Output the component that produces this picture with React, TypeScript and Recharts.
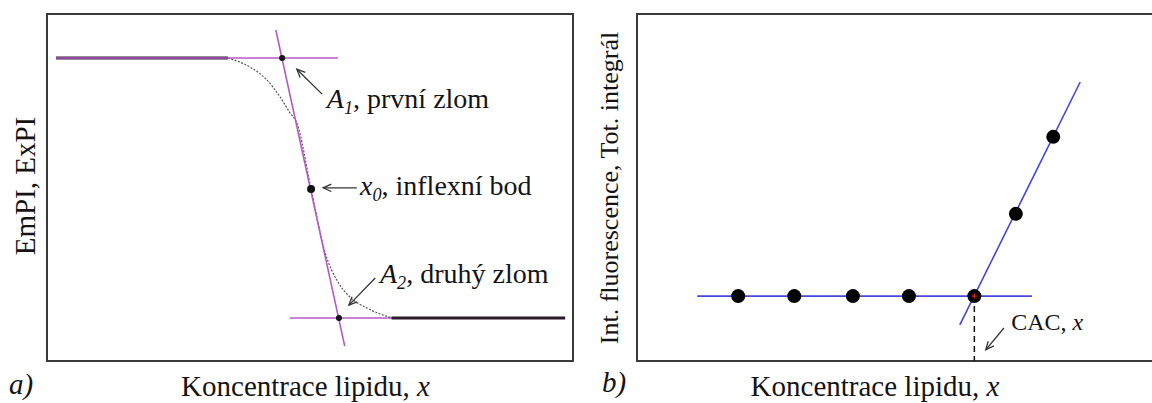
import React from 'react';
import {
  ComposedChart,
  Line,
  Scatter,
  XAxis,
  YAxis,
  ReferenceArea,
  ReferenceLine,
  ReferenceDot,
  Label,
} from 'recharts';

const FONT = "'Liberation Serif', 'Times New Roman', Times, serif";
const TEXT = '#141414';
const PURPLE = '#b45ac6';
const BLUE = '#4747da';
const FRAME = '#3a3a3a';

// ---------- Panel a) : sigmoid with tangents ----------
const upperLevel = 87.3;
const lowerLevel = 12.4;
const upperPlateauX = [1.7, 34.4];
const lowerPlateauX = [65.5, 98.5];
const bendX = [34.4, 38.6, 41.8, 44.3, 46.2, 47.5, 50.2, 52.9, 55.1, 57.6, 60.8, 65.5];
const bendY = [87.3, 84.7, 81.0, 76.1, 71.5, 68.6, 49.6, 31.1, 23.3, 18.4, 15.3, 12.4];
const upperTangentX = [1.7, 55.3];
const lowerTangentX = [46.2, 98.5];
const steepTangentX = [43.5, 56.6];
const steepTangentY = [95.4, 4.3];
const keyPointX = [44.7, 50.2, 55.5];
const keyPointY = [87.3, 49.6, 12.4];
const keyPointR = [3, 4, 3];

const annotMain = ['A', 'x', 'A'];
const annotSub = ['1', '0', '2'];
const annotRest = [', první zlom', ', inflexní bod', ', druhý zlom'];
const annotTextX = [53.2, 59.5, 63.3];
const annotTextY = [72.9, 47.8, 22.5];
const arrowFromX = [52.3, 58.9, 62.4];
const arrowFromY = [76.9, 49.9, 23.9];
const arrowToX = [47.5, 52.5, 57.4];
const arrowToY = [84.1, 49.9, 16.1];

// ---------- Panel b) : CAC determination ----------
const measX = [19.5, 30.3, 41.6, 52.4, 65.0, 73.0, 80.2];
const measY = [18.7, 18.7, 18.7, 18.7, 18.7, 42.4, 64.6];
const baseLineX = [11.6, 76.1];
const baseLineY = 18.7;
const riseLineX = [62.2, 85.4];
const riseLineY = [10.4, 80.4];
const cacX = 65.0;
const cacY = 18.7;
const cacArrowFrom = { x: 70.7, y: 9.5 };
const cacArrowTo = { x: 67.2, y: 3.2 };
const cacTextPos = { x: 72.1, y: 8.9 };

const pts = (xs: number[], ys: number[]) => xs.map((x, i) => ({ x, y: ys[i] }));
const flat = (xs: number[], y: number) => xs.map((x) => ({ x, y }));

const arrowShape = (props: any) => {
  const { x1, y1, x2, y2 } = props;
  const ang = Math.atan2(y2 - y1, x2 - x1);
  const len = 9;
  const spread = 0.42;
  const p1x = x2 - len * Math.cos(ang - spread);
  const p1y = y2 - len * Math.sin(ang - spread);
  const p2x = x2 - len * Math.cos(ang + spread);
  const p2y = y2 - len * Math.sin(ang + spread);
  return (
    <g>
      <line x1={x1} y1={y1} x2={x2} y2={y2} stroke="#333" strokeWidth={1.3} />
      <polyline
        points={`${p1x},${p1y} ${x2},${y2} ${p2x},${p2y}`}
        fill="none"
        stroke="#333"
        strokeWidth={1.3}
      />
    </g>
  );
};

const subText = (main: string, sub: string, rest: string, size: number) => (p: any) => (
  <text x={p.cx} y={p.cy} fontFamily={FONT} fontSize={size} fill={TEXT}>
    <tspan fontStyle="italic">{main}</tspan>
    <tspan fontStyle="italic" fontSize={size * 0.65} dy={6}>
      {sub}
    </tspan>
    <tspan dy={-6}>{rest}</tspan>
  </text>
);

const xTitle = (cx: number) => () => (
  <text x={cx} y={396} textAnchor="middle" fontFamily={FONT} fontSize={29} fill={TEXT}>
    Koncentrace lipidu, <tspan fontStyle="italic">x</tspan>
  </text>
);

const panelTag = (x: number, y: number, tag: string) => () => (
  <text x={x} y={y} fontFamily={FONT} fontSize={29} fontStyle="italic" fill={TEXT}>
    {tag}
  </text>
);

const yTitle = (x: number, y: number, text: string, size: number) => () => (
  <text
    x={x}
    y={y}
    textAnchor="middle"
    transform={`rotate(-90 ${x} ${y})`}
    fontFamily={FONT}
    fontSize={size}
    fill={TEXT}
  >
    {text}
  </text>
);

const dotShape = (r: number, color: string) => (p: any) => (
  <circle cx={p.cx} cy={p.cy} r={r} fill={color} />
);

const PanelA = () => (
  <ComposedChart width={576} height={403} margin={{ top: 14, right: 3, bottom: 0, left: 0 }}>
    <XAxis
      type="number"
      dataKey="x"
      domain={[0, 100]}
      allowDataOverflow
      tick={false}
      tickLine={false}
      axisLine={false}
      height={42}
    >
      <Label content={xTitle(305.5)} />
      <Label content={panelTag(9, 394, 'a)')} />
    </XAxis>
    <YAxis
      type="number"
      dataKey="y"
      domain={[0, 100]}
      allowDataOverflow
      tick={false}
      tickLine={false}
      axisLine={false}
      width={47}
    >
      <Label content={yTitle(35, 186, 'EmPI, ExPI', 29)} />
    </YAxis>
    <ReferenceArea x1={0} x2={100} y1={0} y2={100} fill="none" stroke={FRAME} strokeWidth={2} />

    <Line data={flat(upperPlateauX, upperLevel)} dataKey="y" stroke="#2a1a2a" strokeWidth={3} dot={false} isAnimationActive={false} />
    <Line data={flat(lowerTangentX, lowerLevel)} dataKey="y" stroke={PURPLE} strokeWidth={1.6} dot={false} isAnimationActive={false} />
    <Line data={flat(lowerPlateauX, lowerLevel)} dataKey="y" stroke="#2a1a2a" strokeWidth={3} dot={false} isAnimationActive={false} />
    <Line data={pts(bendX, bendY)} dataKey="y" type="monotone" stroke="#555" strokeWidth={1.2} strokeDasharray="2 1.5" dot={false} isAnimationActive={false} />
    <Line data={flat(upperTangentX, upperLevel)} dataKey="y" stroke={PURPLE} strokeWidth={1.6} dot={false} isAnimationActive={false} />
    <Line data={pts(steepTangentX, steepTangentY)} dataKey="y" stroke={PURPLE} strokeWidth={1.6} dot={false} isAnimationActive={false} />

    {keyPointX.map((x, i) => (
      <Scatter
        key={`kp${i}`}
        data={[{ x, y: keyPointY[i] }]}
        dataKey="y"
        fill="#111"
        shape={dotShape(keyPointR[i], '#111')}
        isAnimationActive={false}
      />
    ))}

    {annotMain.map((m, i) => (
      <ReferenceLine
        key={`ar${i}`}
        segment={[
          { x: arrowFromX[i], y: arrowFromY[i] },
          { x: arrowToX[i], y: arrowToY[i] },
        ]}
        shape={arrowShape}
      />
    ))}
    {annotMain.map((m, i) => (
      <ReferenceDot
        key={`tx${i}`}
        x={annotTextX[i]}
        y={annotTextY[i]}
        r={0}
        shape={subText(m, annotSub[i], annotRest[i], 28)}
      />
    ))}
  </ComposedChart>
);

const PanelB = () => (
  <ComposedChart width={580} height={403} margin={{ top: 14, right: 0, bottom: 0, left: 0 }}>
    <XAxis
      type="number"
      dataKey="x"
      domain={[0, 100]}
      allowDataOverflow
      tick={false}
      tickLine={false}
      axisLine={false}
      height={42}
    >
      <Label content={xTitle(299)} />
      <Label content={panelTag(26, 392, 'b)')} />
    </XAxis>
    <YAxis
      type="number"
      dataKey="y"
      domain={[0, 100]}
      allowDataOverflow
      tick={false}
      tickLine={false}
      axisLine={false}
      width={61}
    >
      <Label content={yTitle(42, 188, 'Int. fluorescence, Tot. integrál', 26)} />
    </YAxis>
    <ReferenceArea x1={0} x2={100} y1={0} y2={100} fill="none" stroke={FRAME} strokeWidth={2} />

    <Line data={[{ x: cacX, y: cacY }, { x: cacX, y: 0 }]} dataKey="y" stroke="#111" strokeWidth={1.5} strokeDasharray="6 4" dot={false} isAnimationActive={false} />
    <Line data={flat(baseLineX, baseLineY)} dataKey="y" stroke={BLUE} strokeWidth={1.6} dot={false} isAnimationActive={false} />
    <Line data={pts(riseLineX, riseLineY)} dataKey="y" stroke={BLUE} strokeWidth={1.6} dot={false} isAnimationActive={false} />
    <Scatter data={pts(measX, measY)} dataKey="y" fill="#000" shape={dotShape(7, '#000')} isAnimationActive={false} />
    <ReferenceDot
      x={cacX}
      y={cacY}
      r={0}
      shape={(p: any) => (
        <g stroke="#e0202a" strokeWidth={1.2}>
          <line x1={p.cx - 2.5} y1={p.cy} x2={p.cx + 2.5} y2={p.cy} />
          <line x1={p.cx} y1={p.cy - 2.5} x2={p.cx} y2={p.cy + 2.5} />
        </g>
      )}
    />
    <ReferenceLine segment={[cacArrowFrom, cacArrowTo]} shape={arrowShape} />
    <ReferenceDot
      x={cacTextPos.x}
      y={cacTextPos.y}
      r={0}
      shape={(p: any) => (
        <text x={p.cx} y={p.cy} fontFamily={FONT} fontSize={24} fill={TEXT}>
          CAC, <tspan fontStyle="italic">x</tspan>
        </text>
      )}
    />
  </ComposedChart>
);

export default function App() {
  return (
    <div
      style={{
        position: 'fixed',
        left: 0,
        top: 0,
        width: 1152,
        height: 403,
        overflow: 'hidden',
        background: '#fff',
      }}
    >
      <div style={{ position: 'absolute', left: 0, top: 0 }}>
        <PanelA />
      </div>
      <div style={{ position: 'absolute', left: 576, top: 0 }}>
        <PanelB />
      </div>
    </div>
  );
}
